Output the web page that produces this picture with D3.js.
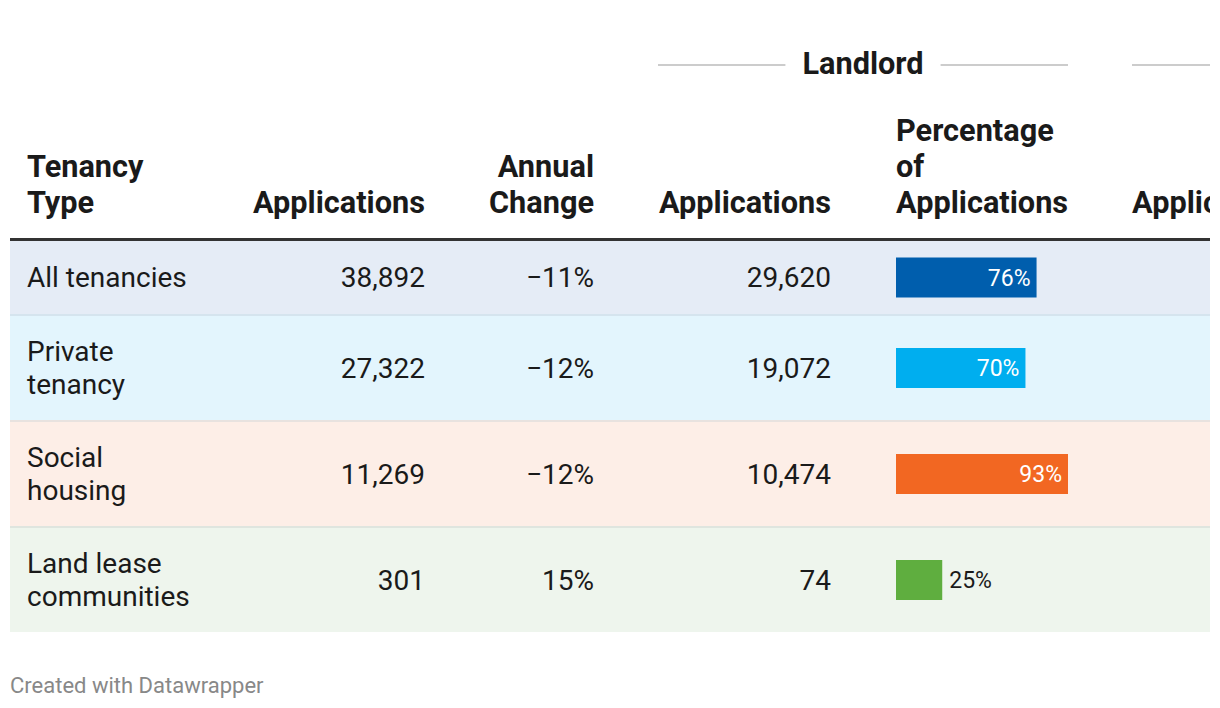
<!DOCTYPE html>
<html>
<head>
<meta charset="utf-8">
<script src="https://cdn.jsdelivr.net/npm/d3@7"></script>
<style>
  html, body { margin: 0; padding: 0; background: #fff; }
  svg { display: block; font-family: Roboto, "Noto Sans", sans-serif; }
</style>
</head>
<body>
<svg id="chart" width="1220" height="708"></svg>
<script>
// ---- data ----
const categories = ["All tenancies", "Private tenancy", "Social housing", "Land lease communities"];
const totalApplications = [38892, 27322, 11269, 301];
const annualChange = [-11, -12, -12, 15];
const landlordApplications = [29620, 19072, 10474, 74];
const landlordPercentage = [76, 70, 93, 25];

const headerLabels = ["Tenancy Type", "Applications", "Annual Change", "Applications", "Percentage of Applications"];
const groupLabel = "Landlord";
const nextGroupHeader = "Applications";
const footerText = "Created with Datawrapper";

// ---- styles ----
const rowFills = ["#e5ecf6", "#e3f5fd", "#fdeee7", "#eef5ed"];
const rowBorders = ["#d5e4ee", "#e8e2df", "#dfe5df", "#eef5ed"];
const barFills = ["#005ead", "#00aeef", "#f26722", "#5fae3f"];
const textColor = "#1a1a1a";

const svg = d3.select("#chart");
const tableLeft = 10, tableRight = 1210;

svg.append("defs").append("clipPath").attr("id", "clip")
  .append("rect").attr("x", tableLeft).attr("y", 0)
  .attr("width", tableRight - tableLeft).attr("height", 708);

const g = svg.append("g").attr("clip-path", "url(#clip)");

// column layout
const cols = [
  { x: 27, anchor: "start", width: 175 },   // tenancy type
  { x: 425, anchor: "end", width: 180 },    // applications
  { x: 594, anchor: "end", width: 150 },    // annual change
  { x: 831, anchor: "end", width: 180 },    // landlord applications
  { x: 896, anchor: "start", width: 172 }   // percentage
];

const headerFont = 30.7, headerLH = 36;
const bodyFont = 28, bodyLH = 33;

// text wrapping helper (measures with a hidden text)
const measurer = svg.append("text").attr("visibility", "hidden");
function wrap(str, width, size, weight) {
  measurer.attr("font-size", size).attr("font-weight", weight);
  const words = str.split(" ");
  const lines = [];
  let cur = "";
  words.forEach(w => {
    const test = cur ? cur + " " + w : w;
    measurer.text(test);
    if (measurer.node().getComputedTextLength() > width && cur) {
      lines.push(cur);
      cur = w;
    } else cur = test;
  });
  if (cur) lines.push(cur);
  return lines;
}

// ---- group header ----
const groupLeft = 658, groupRight = 1068, groupY = 65;
const gx = (groupLeft + groupRight) / 2;
const gText = g.append("text")
  .attr("x", gx).attr("y", 74)
  .attr("text-anchor", "middle")
  .attr("font-size", headerFont).attr("font-weight", 700)
  .attr("fill", textColor).text(groupLabel);
const gw = gText.node().getComputedTextLength();
g.append("line").attr("x1", groupLeft).attr("x2", gx - gw / 2 - 17)
  .attr("y1", groupY).attr("y2", groupY).attr("stroke", "#cccccc").attr("stroke-width", 2);
g.append("line").attr("x1", gx + gw / 2 + 17).attr("x2", groupRight)
  .attr("y1", groupY).attr("y2", groupY).attr("stroke", "#cccccc").attr("stroke-width", 2);
// next group (cut off)
g.append("line").attr("x1", 1132).attr("x2", 1300)
  .attr("y1", groupY).attr("y2", groupY).attr("stroke", "#cccccc").attr("stroke-width", 2);

// ---- column headers ----
const headerBaseline = 213;
headerLabels.forEach((lab, i) => {
  const c = cols[i];
  const lines = wrap(lab, c.width, headerFont, 700);
  const t = g.append("text")
    .attr("text-anchor", c.anchor)
    .attr("font-size", headerFont).attr("font-weight", 700)
    .attr("fill", textColor);
  lines.forEach((ln, k) => {
    t.append("tspan").attr("x", c.x)
      .attr("y", headerBaseline - (lines.length - 1 - k) * headerLH)
      .text(ln);
  });
});
g.append("text").attr("x", 1132).attr("y", headerBaseline)
  .attr("font-size", headerFont).attr("font-weight", 700)
  .attr("fill", textColor).text(nextGroupHeader);

// header rule
g.append("rect").attr("x", tableLeft).attr("y", 238)
  .attr("width", tableRight - tableLeft).attr("height", 3).attr("fill", "#333333");

// ---- rows ----
const rowLines = categories.map(c => wrap(c, cols[0].width, bodyFont, 400));
const rowHeights = rowLines.map(l => l.length === 1 ? 73 : l.length * bodyLH + 38);
const borderW = 2;
let yCursor = 241;
const rowTops = rowHeights.map(h => { const t = yCursor; yCursor += h + borderW; return t; });

const xBar = d3.scaleLinear()
  .domain([0, d3.max(landlordPercentage)])
  .range([0, cols[4].width]);

const fmtNum = d3.format(",");
const fmtPct = d3.format("d");

categories.forEach((cat, i) => {
  const top = rowTops[i], h = rowHeights[i], mid = top + h / 2;
  const row = g.append("g");
  row.append("rect").attr("x", tableLeft).attr("y", top)
    .attr("width", tableRight - tableLeft).attr("height", h).attr("fill", rowFills[i]);
  if (i < categories.length - 1) {
    row.append("rect").attr("x", tableLeft).attr("y", top + h)
      .attr("width", tableRight - tableLeft).attr("height", borderW).attr("fill", rowBorders[i]);
  }
  const baseOff = bodyFont * 0.355;
  // category
  const lines = rowLines[i];
  const t = row.append("text").attr("font-size", bodyFont).attr("fill", textColor);
  lines.forEach((ln, k) => {
    t.append("tspan").attr("x", cols[0].x)
      .attr("y", mid + baseOff + (k - (lines.length - 1) / 2) * bodyLH)
      .text(ln);
  });
  const vals = [fmtNum(totalApplications[i]), fmtPct(annualChange[i]) + "%", fmtNum(landlordApplications[i])];
  vals.forEach((v, k) => {
    row.append("text").attr("x", cols[k + 1].x).attr("y", mid + baseOff)
      .attr("text-anchor", "end").attr("font-size", bodyFont)
      .attr("fill", textColor).text(v);
  });
  // bar
  const bw = xBar(landlordPercentage[i]);
  row.append("rect").attr("x", cols[4].x).attr("y", mid - 20)
    .attr("width", bw).attr("height", 40).attr("fill", barFills[i]);
  const lab = row.append("text").attr("font-size", 23).attr("y", mid + 23 * 0.355)
    .text(landlordPercentage[i] + "%");
  const lw = lab.node().getComputedTextLength();
  if (lw + 14 < bw) {
    lab.attr("x", cols[4].x + bw - 6).attr("text-anchor", "end").attr("fill", "#ffffff");
  } else {
    lab.attr("x", cols[4].x + bw + 7).attr("text-anchor", "start").attr("fill", textColor);
  }
});

measurer.remove();

// ---- footer ----
svg.append("text").attr("x", 10).attr("y", 693)
  .attr("font-size", 22).attr("fill", "#888888").text(footerText);
</script>
</body>
</html>
